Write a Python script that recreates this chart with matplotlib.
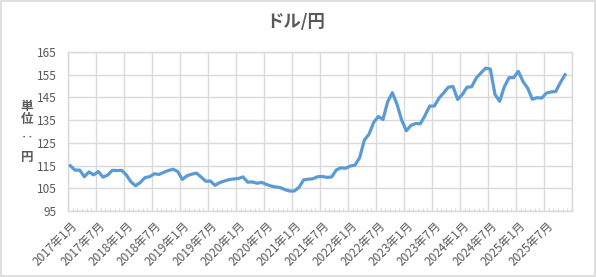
import matplotlib
matplotlib.use("Agg")
import matplotlib.pyplot as plt
from matplotlib.patches import Rectangle

plt.rcParams["font.family"] = ["Noto Sans CJK JP", "DejaVu Sans"]

# 月次データ (2017年1月 - 2025年11月), 2025年12月は空欄
months = [f"{y}年{m}月" for y in range(2017, 2026) for m in range(1, 13)]
usd_jpy = [
    114.9, 113.0, 113.0, 110.1, 112.2, 110.9, 112.4, 109.9, 110.8, 112.9, 112.8, 112.9,
    110.9, 107.8, 106.1, 107.6, 109.7, 110.1, 111.4, 111.1, 112.0, 112.8, 113.4, 112.4,
    108.9, 110.5, 111.2, 111.7, 110.0, 108.1, 108.2, 106.3, 107.5, 108.2, 108.8, 109.1,
    109.3, 110.0, 107.7, 107.8, 107.2, 107.6, 106.7, 106.0, 105.6, 105.3, 104.4, 103.8,
    103.8, 105.4, 108.7, 109.0, 109.2, 110.1, 110.2, 109.8, 110.0, 113.1, 114.0, 113.8,
    114.8, 115.2, 118.5, 126.2, 128.8, 134.0, 136.6, 135.3, 143.1, 147.1, 142.0, 135.0,
    130.3, 132.7, 133.5, 133.4, 137.0, 141.2, 141.2, 144.7, 147.0, 149.5, 149.8, 144.1,
    146.3, 149.5, 149.7, 153.6, 155.8, 157.9, 157.5, 146.3, 143.3, 149.7, 153.7, 153.7,
    156.5, 152.0, 149.1, 144.2, 144.9, 144.7, 146.9, 147.4, 147.6, 151.5, 155.0,
]
y_ticks = list(range(95, 166, 10))

TEXT = "#595959"
GRID = "#D9D9D9"
LINE = "#5B9BD5"

fig = plt.figure(figsize=(5.96, 2.77), dpi=100)
ax = fig.add_axes([68 / 596, 1 - 211 / 277, 504 / 596, 159 / 277])

x = list(range(len(usd_jpy)))
ax.plot(x, usd_jpy, color=LINE, linewidth=2.3, solid_joinstyle="round", zorder=3)

n_cat = len(months)
ax.set_xlim(-0.5, n_cat - 0.5)
ax.set_ylim(95, 165)
ax.set_yticks(y_ticks)

# 縦グリッドは6か月ごとのカテゴリ境界
for k in range(0, n_cat + 1, 6):
    ax.axvline(k - 0.5, color=GRID, linewidth=1.0, zorder=1)
for v in y_ticks:
    ax.axhline(v, color=GRID, linewidth=1.0, zorder=1)

label_pos = list(range(0, n_cat, 6))
ax.set_xticks(label_pos)
ax.set_xticklabels([months[i] for i in label_pos], rotation=45, ha="right",
                   rotation_mode="anchor", fontsize=8.5, color=TEXT)
ax.set_xticks([k - 0.5 for k in range(n_cat + 1)], minor=True)
ax.tick_params(axis="x", which="major", length=0, pad=6)
ax.tick_params(axis="x", which="minor", direction="in", length=2.5, color=GRID, width=0.8)
ax.tick_params(axis="y", length=0, pad=8, labelsize=8.5, labelcolor=TEXT)

for s in ax.spines.values():
    s.set_color(GRID)
    s.set_linewidth(1.0)

fig.text(296 / 596, 1 - 22 / 277, "ドル/円", ha="center", va="center",
         fontsize=12.5, color=TEXT, fontweight="bold")

for ch, yy in zip(["単", "位", "‥", "円"], [107, 120, 137, 157]):
    fig.text(27 / 596, 1 - yy / 277, ch, ha="center", va="center",
             fontsize=9, color=TEXT, fontweight="bold")

fig.patches.append(Rectangle((0.001, 0.002), 0.997, 0.994, transform=fig.transFigure,
                             fill=False, edgecolor=GRID, linewidth=1.2))

fig.savefig("out.png", dpi=100)
